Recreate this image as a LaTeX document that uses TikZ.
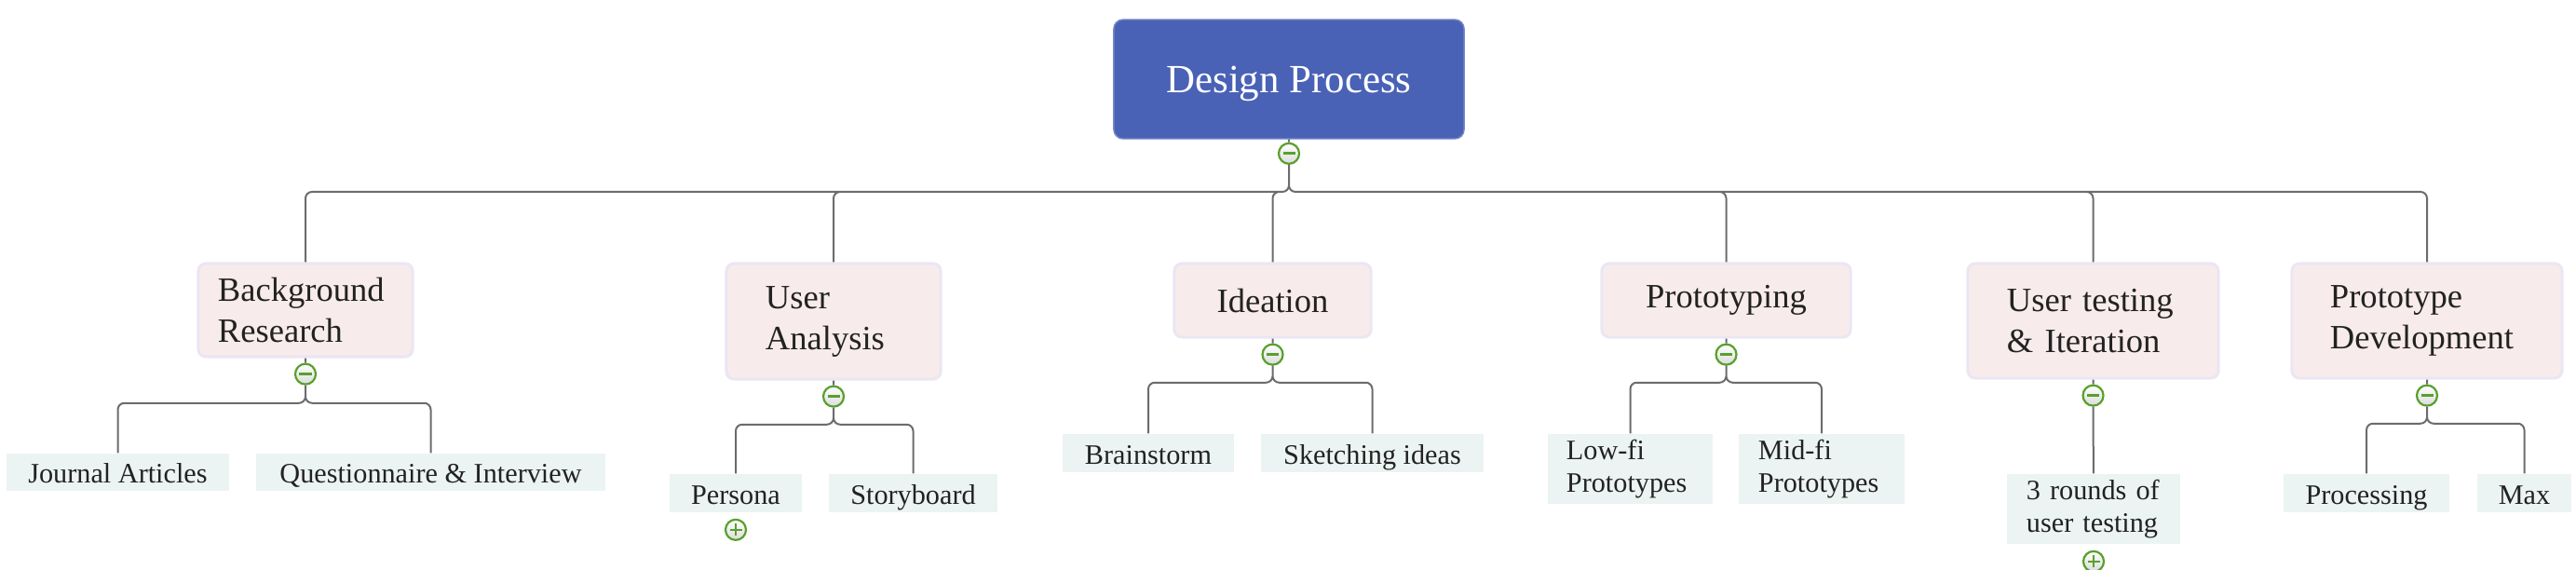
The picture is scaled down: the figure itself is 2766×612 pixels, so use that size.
\documentclass[tikz,border=0pt]{standalone}
\usepackage{fontspec}
\setmainfont{Liberation Serif}
\usepackage{tikz}
\usetikzlibrary{positioning}
\definecolor{rootblue}{RGB}{73,98,182}
\definecolor{topicpink}{RGB}{248,235,235}
\definecolor{topicedge}{RGB}{234,230,242}
\definecolor{leafmint}{RGB}{235,244,242}
\definecolor{linegray}{RGB}{108,108,108}
\definecolor{togglegreen}{RGB}{88,160,44}
\definecolor{inkdark}{RGB}{34,34,34}
\newcommand{\rootfont}{\fontsize{12.2pt}{14.6pt}\selectfont}
\newcommand{\topicfont}{\fontsize{10.4pt}{12.5pt}\selectfont}
\newcommand{\leaffont}{\fontsize{8.6pt}{9.8pt}\selectfont}

\begin{document}
\begin{tikzpicture}[x=0.01cm, y=-0.01cm,
  root/.style={fill=rootblue, draw=rootblue!75!white, rounded corners=0.1cm, text=white, font=\rootfont, minimum width=3.76cm, minimum height=1.28cm, inner sep=0pt, text height=9pt, text depth=1pt},
  topic/.style={fill=topicpink, draw=topicedge, line width=0.03cm, rounded corners=0.08cm, text=inkdark, font=\topicfont, inner sep=0pt},
  leaf/.style={fill=leafmint, text=inkdark, font=\leaffont, inner sep=0pt, minimum height=0.41cm},
  leafone/.style={leaf, text height=7.2pt, text depth=0.6pt},
  toggle/.style={circle, draw=togglegreen, line width=0.022cm, minimum size=0.22cm, inner sep=0pt, top color=white, bottom color=black!14},
  minus/.style={toggle, path picture={\draw[togglegreen, line width=0.028cm] ([xshift=-0.065cm]path picture bounding box.center) -- ([xshift=0.065cm]path picture bounding box.center);}},
  plus/.style={toggle, path picture={\draw[togglegreen, line width=0.022cm] ([xshift=-0.065cm]path picture bounding box.center) -- ([xshift=0.065cm]path picture bounding box.center) ([yshift=-0.065cm]path picture bounding box.center) -- ([yshift=0.065cm]path picture bounding box.center);}},
  conn/.style={draw=linegray, line width=0.02cm, rounded corners=0.07cm}
]
\useasboundingbox (0,0) rectangle (2766,612);

\node[root] (DP) at (1384,85) {Design Process};
\node[minus, below=0.03cm of DP] (tDP) {};
\coordinate[below=0.29cm of tDP] (jDP);

\node[topic, minimum width=2.30cm, minimum height=1.00cm, text width=1.88cm, align=left] (BR) at (328,333) {Background\\Research};
\node[topic, minimum width=2.30cm, minimum height=1.24cm, text width=1.46cm, align=left] (UA) at (895,345) {User\\Analysis};
\node[topic, minimum width=2.11cm, minimum height=0.79cm] (ID) at (1366.5,322.5) {Ideation};
\node[topic, minimum width=2.67cm, minimum height=0.79cm] (PR) at (1853.5,322.5) {Prototyping};
\node[topic, minimum width=2.69cm, minimum height=1.23cm, text width=1.85cm, align=left] (UT) at (2247.5,344.5) {User testing\\\& Iteration};
\node[topic, minimum width=2.90cm, minimum height=1.23cm, text width=2.08cm, align=left] (PD) at (2606,344.5) {Prototype\\Development};

\node[minus, below=0.05cm of BR] (tBR) {};
\node[minus, below=0.05cm of UA] (tUA) {};
\node[minus, below=0.05cm of ID] (tID) {};
\node[minus, below=0.05cm of PR] (tPR) {};
\node[minus, below=0.05cm of UT] (tUT) {};
\node[minus, below=0.05cm of PD] (tPD) {};
\coordinate[below=0.19cm of tBR] (jBR);
\coordinate[below=0.18cm of tUA] (jUA);
\coordinate[below=0.18cm of tID] (jID);
\coordinate[below=0.18cm of tPR] (jPR);
\coordinate[below=0.18cm of tPD] (jPD);

\node[leafone, minimum width=2.39cm, minimum height=0.40cm] (JA) at (126.5,507) {Journal Articles};
\node[leafone, minimum width=3.75cm, minimum height=0.40cm] (QI) at (462.5,507) {Questionnaire \& Interview};
\node[leafone, minimum width=1.42cm] (PE) at (790,529.5) {Persona};
\node[leafone, minimum width=1.81cm] (SB) at (980.5,529.5) {Storyboard};
\node[leafone, minimum width=1.84cm] (BS) at (1233,486.5) {Brainstorm};
\node[leafone, minimum width=2.39cm] (SI) at (1473.5,486.5) {Sketching ideas};
\node[leaf, minimum width=1.77cm, minimum height=0.75cm, text width=1.37cm, align=left] (LF) at (1750.5,503.5) {Low-fi\\Prototypes};
\node[leaf, minimum width=1.78cm, minimum height=0.75cm, text width=1.36cm, align=left] (MF) at (1956,503.5) {Mid-fi\\Prototypes};
\node[leaf, minimum width=1.86cm, minimum height=0.75cm, text width=1.44cm, align=left] (RT) at (2248,546.5) {3 rounds of\\user testing};
\node[leafone, minimum width=1.78cm] (PC) at (2541,529.5) {Processing};
\node[leafone, minimum width=1.01cm] (MX) at (2710.5,529.5) {Max};

\node[plus, below=0.06cm of PE] (tPE) {};
\node[plus, below=0.06cm of RT] (tRT) {};

\draw[conn]
  (DP) -- (tDP)
  (tDP) -- (jDP) -| (BR)
  (tDP) -- (jDP) -| (UA)
  (tDP) -- (jDP) -| (ID)
  (tDP) -- (jDP) -| (PR)
  (tDP) -- (jDP) -| (UT)
  (tDP) -- (jDP) -| (PD)
  (BR) -- (tBR)
  (tBR) -- (jBR) -| (JA)
  (tBR) -- (jBR) -| (QI)
  (UA) -- (tUA)
  (tUA) -- (jUA) -| (PE)
  (tUA) -- (jUA) -| (SB)
  (ID) -- (tID)
  (tID) -- (jID) -| (BS)
  (tID) -- (jID) -| (SI)
  (PR) -- (tPR)
  (tPR) -- (jPR) -| (LF)
  (tPR) -- (jPR) -| (MF)
  (UT) -- (tUT)
  (tUT) -- (RT)
  (PD) -- (tPD)
  (tPD) -- (jPD) -| (PC)
  (tPD) -- (jPD) -| (MX)
;
\end{tikzpicture}
\end{document}
